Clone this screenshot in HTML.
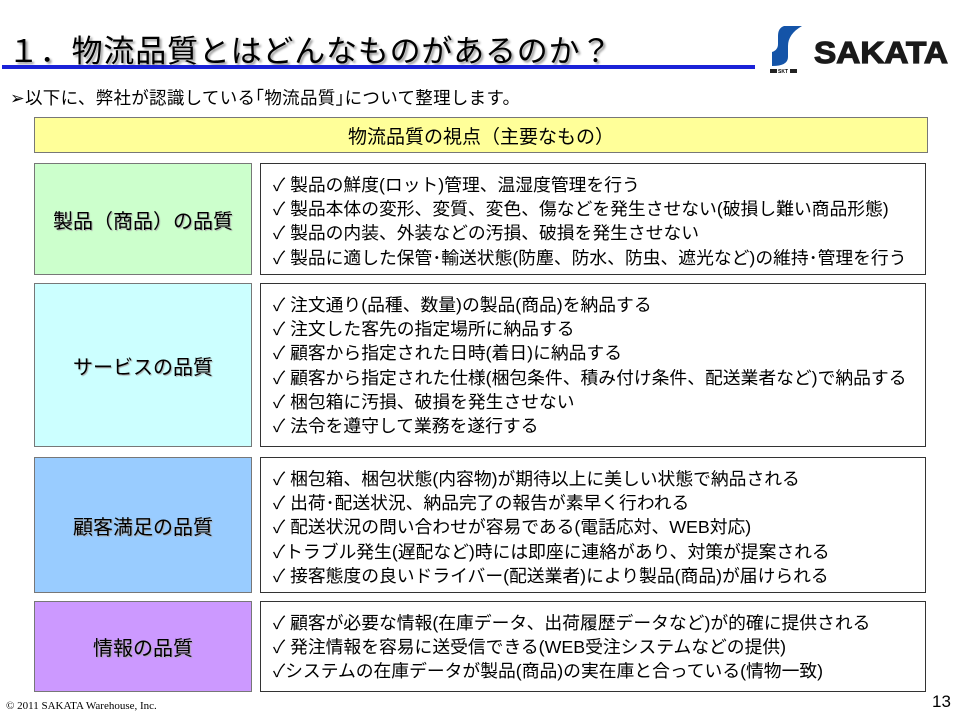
<!DOCTYPE html>
<html><head><meta charset="utf-8"><style>
body{margin:0;width:958px;height:719px;background:#fff;position:relative;overflow:hidden;font-family:"Liberation Sans","Noto Sans CJK JP",sans-serif;color:#000}
.a{position:absolute;box-sizing:border-box}
.l{border:1px solid #777;display:flex;align-items:center;justify-content:center;font-size:20px;text-shadow:1px 1px 1px #aaa}
.r{border:1px solid #333;padding:9px 0 0 12px;font-size:17.8px;line-height:24.2px;white-space:nowrap}
</style></head><body>
<div class="a" style="left:8px;top:26px;font-size:31px;letter-spacing:0.8px;text-shadow:2px 2px 2px #999">１．物流品質とはどんなものがあるのか？</div>
<div class="a" style="left:2px;top:65px;width:753px;height:4px;background:#1a22d8"></div>
<svg class="a" style="left:768px;top:24px" width="182" height="50">
<path d="M16 2 L34 2 Q20 10 20 22 L20 33 Q20 42 4 42 L4 28 Q10 26 10 20 L10 12 Q10 4 16 2Z" fill="#1454a8"/>
<rect x="2" y="45" width="7" height="4" fill="#222"/><text x="10" y="49" font-size="5" font-family="Liberation Sans" font-weight="bold">SKT</text><rect x="22" y="45" width="7" height="4" fill="#222"/>
<text x="46" y="39" font-size="31" font-weight="900" font-family="Liberation Sans" textLength="134" lengthAdjust="spacingAndGlyphs" stroke="#1a1a1a" stroke-width="1.2" fill="#1a1a1a">SAKATA</text></svg>
<div class="a" style="left:10px;top:85px;font-size:17.5px;letter-spacing:0.3px">➢以下に、弊社が認識している｢物流品質｣について整理します。</div>
<div class="a l" style="left:34px;top:117px;width:894px;height:36px;background:#ffff99;text-shadow:none;font-size:19px">物流品質の視点（主要なもの）</div>
<div class="a l" style="left:34px;top:163px;width:218px;height:112px;background:#ccffcc">製品（商品）の品質</div>
<div class="a r" style="left:260px;top:163px;width:666px;height:112px">✓ 製品の鮮度(ロット)管理、温湿度管理を行う<br>✓ 製品本体の変形、変質、変色、傷などを発生させない(破損し難い商品形態)<br>✓ 製品の内装、外装などの汚損、破損を発生させない<br>✓ 製品に適した保管･輸送状態(防塵、防水、防虫、遮光など)の維持･管理を行う</div>
<div class="a l" style="left:34px;top:283px;width:218px;height:164px;background:#ccffff">サービスの品質</div>
<div class="a r" style="left:260px;top:283px;width:666px;height:164px">✓ 注文通り(品種、数量)の製品(商品)を納品する<br>✓ 注文した客先の指定場所に納品する<br>✓ 顧客から指定された日時(着日)に納品する<br>✓ 顧客から指定された仕様(梱包条件、積み付け条件、配送業者など)で納品する<br>✓ 梱包箱に汚損、破損を発生させない<br>✓ 法令を遵守して業務を遂行する</div>
<div class="a l" style="left:34px;top:457px;width:218px;height:136px;background:#99ccff">顧客満足の品質</div>
<div class="a r" style="left:260px;top:457px;width:666px;height:136px">✓ 梱包箱、梱包状態(内容物)が期待以上に美しい状態で納品される<br>✓ 出荷･配送状況、納品完了の報告が素早く行われる<br>✓ 配送状況の問い合わせが容易である(電話応対、WEB対応)<br>✓トラブル発生(遅配など)時には即座に連絡があり、対策が提案される<br>✓ 接客態度の良いドライバー(配送業者)により製品(商品)が届けられる</div>
<div class="a l" style="left:34px;top:601px;width:218px;height:91px;background:#cc99ff">情報の品質</div>
<div class="a r" style="left:260px;top:601px;width:666px;height:91px">✓ 顧客が必要な情報(在庫データ、出荷履歴データなど)が的確に提供される<br>✓ 発注情報を容易に送受信できる(WEB受注システムなどの提供)<br>✓システムの在庫データが製品(商品)の実在庫と合っている(情物一致)</div>
<div class="a" style="left:6px;top:700px;font-size:11px;font-family:'Liberation Serif',serif">© 2011 SAKATA Warehouse, Inc.</div>
<div class="a" style="left:932px;top:692px;font-size:17px">13</div>
</body></html>
